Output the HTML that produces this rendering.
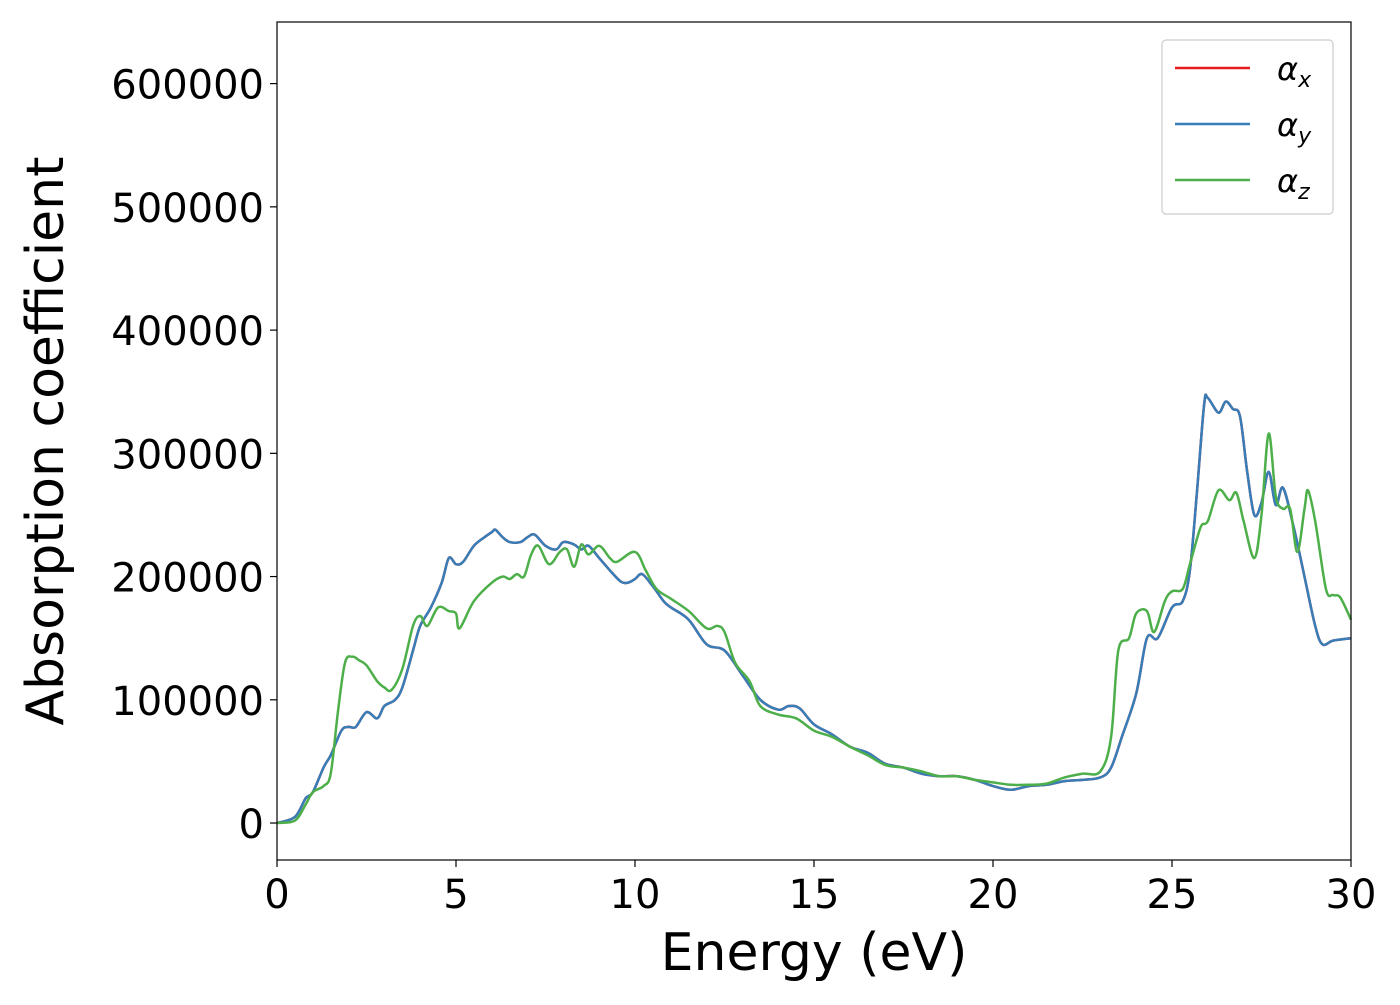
<!DOCTYPE html>
<html><head><meta charset="utf-8"><style>
body{margin:0;background:#fff}
text{font-family:"DejaVu Sans","Liberation Sans",sans-serif;fill:#000}
</style></head><body>
<svg id="chart" width="1400" height="1000">
<rect x="0" y="0" width="1400" height="1000" fill="#fff"/>
<g id="plot"></g>
<rect x="277" y="22" width="1074" height="838" fill="none" stroke="#000" stroke-width="1.2"/>
<g id="axes"></g>
<text x="814" y="970" font-size="52" text-anchor="middle">Energy (eV)</text>
<text transform="translate(63,441) rotate(-90)" font-size="52" text-anchor="middle">Absorption coefficient</text>
<g>
<rect x="1162" y="40" width="171" height="174" rx="4" fill="#fff" stroke="#ccc" stroke-width="1.2"/>
<g><line x1="1175" y1="68" x2="1250" y2="68" stroke="#e41a1c" stroke-width="2.5"/><text x="1277" y="80" font-size="32" font-style="italic">α<tspan font-size="22" dy="7">x</tspan></text></g>
<g><line x1="1175" y1="124" x2="1250" y2="124" stroke="#377eb8" stroke-width="2.5"/><text x="1277" y="136" font-size="32" font-style="italic">α<tspan font-size="22" dy="7">y</tspan></text></g>
<g><line x1="1175" y1="180" x2="1250" y2="180" stroke="#4daf4a" stroke-width="2.5"/><text x="1277" y="192" font-size="32" font-style="italic">α<tspan font-size="22" dy="7">z</tspan></text></g>
</g>
</svg>
<script>
const xyE=[0,0.5,0.8,1,1.3,1.5,1.8,2,2.2,2.5,2.8,3,3.3,3.5,3.8,4,4.3,4.6,4.8,5,5.2,5.5,5.8,6,6.1,6.3,6.5,6.8,7,7.2,7.5,7.8,8,8.3,8.5,8.7,9,9.3,9.6,9.8,10,10.2,10.5,10.8,11,11.5,12,12.5,13,13.5,14,14.3,14.6,15,15.5,16,16.5,17,17.5,18,18.5,19,19.5,20,20.5,21,21.5,22,22.5,23,23.3,23.6,24,24.3,24.6,25,25.3,25.5,25.7,25.9,26,26.3,26.5,26.7,26.9,27.1,27.3,27.5,27.7,27.9,28.1,28.4,28.7,29,29.2,29.5,30];
const alphaXY=[0,5,20,25,45,55,75,78,78,90,85,95,100,110,140,160,175,195,215,210,212,225,232,236,238,232,228,228,232,234,225,222,228,226,222,225,215,205,196,195,198,202,192,180,175,165,145,140,120,100,92,95,93,80,72,62,57,48,45,40,38,38,35,30,27,30,31,34,35,37,45,70,105,150,150,175,180,205,270,340,345,333,342,336,330,285,250,260,285,258,272,240,200,160,145,148,150];
const zE=[0,0.5,0.8,1,1.3,1.5,1.7,1.9,2.1,2.3,2.5,2.8,3,3.2,3.5,3.8,4,4.2,4.5,4.8,5,5.1,5.5,6,6.3,6.5,6.7,6.9,7.1,7.3,7.6,7.9,8.1,8.3,8.5,8.7,9,9.3,9.5,10,10.3,10.6,11,11.5,12,12.3,12.5,12.8,13.2,13.5,14,14.5,15,15.5,16,16.5,17,17.5,18,18.5,19,19.5,20,20.5,21,21.5,22,22.5,23,23.3,23.5,23.8,24,24.3,24.5,24.8,25,25.3,25.5,25.8,26,26.3,26.6,26.8,27,27.3,27.5,27.7,27.9,28.1,28.3,28.5,28.7,28.8,29,29.3,29.5,29.7,30];
const alphaZ=[0,2,15,25,30,40,90,130,135,132,128,115,110,108,125,160,168,160,175,172,170,158,180,195,200,198,202,200,218,225,210,220,222,208,226,218,225,215,212,220,205,190,182,172,158,160,155,130,115,95,88,85,75,70,62,55,47,45,42,38,38,35,33,31,31,32,37,40,42,70,140,150,170,172,155,180,188,190,210,240,245,270,262,268,245,215,250,316,265,255,255,220,255,270,245,190,185,183,165];
const xTicks=[0,5,10,15,20,25,30];
const yTicks=[0,100000,200000,300000,400000,500000,600000];
const X0=277,X1=1351,Y0=860,Y1=22,XMIN=0,XMAX=30,YMIN=-30000,YMAX=650000;
const sx=v=>X0+(v-XMIN)/(XMAX-XMIN)*(X1-X0);
const sy=v=>Y0-(v-YMIN)/(YMAX-YMIN)*(Y0-Y1);
const NS="http://www.w3.org/2000/svg";
function path(E,V,color,name){
  const p=E.map((e,i)=>[sx(e),sy(V[i]*1000)]);
  let d="M"+p[0][0].toFixed(1)+","+p[0][1].toFixed(1);
  for(let i=0;i<p.length-1;i++){
    const a=p[Math.max(i-1,0)],b=p[i],c=p[i+1],e=p[Math.min(i+2,p.length-1)];
    const c1=[b[0]+(c[0]-a[0])/6,b[1]+(c[1]-a[1])/6],c2=[c[0]-(e[0]-b[0])/6,c[1]-(e[1]-b[1])/6];
    d+="C"+c1[0].toFixed(1)+","+c1[1].toFixed(1)+" "+c2[0].toFixed(1)+","+c2[1].toFixed(1)+" "+c[0].toFixed(1)+","+c[1].toFixed(1);
  }
  const el=document.createElementNS(NS,"path");
  el.setAttribute("d",d);el.setAttribute("fill","none");el.setAttribute("stroke",color);el.setAttribute("stroke-width","2.5");
  
  
  document.getElementById("plot").appendChild(el);
}
path(xyE,alphaXY,"#e41a1c","series-alpha-x");
path(xyE,alphaXY,"#377eb8","series-alpha-y");
path(zE,alphaZ,"#4daf4a","series-alpha-z");
const ax=document.getElementById("axes");
xTicks.forEach(t=>{
  const l=document.createElementNS(NS,"line");
  l.setAttribute("x1",sx(t));l.setAttribute("x2",sx(t));l.setAttribute("y1",860);l.setAttribute("y2",867);l.setAttribute("stroke","#000");l.setAttribute("stroke-width","1.2");
  
  
  ax.appendChild(l);
  const tx=document.createElementNS(NS,"text");
  tx.setAttribute("x",sx(t));tx.setAttribute("y",908);tx.setAttribute("font-size","40");tx.setAttribute("text-anchor","middle");
  tx.textContent=t;
  
  
  ax.appendChild(tx);
});
yTicks.forEach(t=>{
  const l=document.createElementNS(NS,"line");
  l.setAttribute("x1",270);l.setAttribute("x2",277);l.setAttribute("y1",sy(t));l.setAttribute("y2",sy(t));l.setAttribute("stroke","#000");l.setAttribute("stroke-width","1.2");
  
  
  ax.appendChild(l);
  const tx=document.createElementNS(NS,"text");
  tx.setAttribute("x",264);tx.setAttribute("y",sy(t)+15);tx.setAttribute("font-size","40");tx.setAttribute("text-anchor","end");
  tx.textContent=t;
  
  
  ax.appendChild(tx);
});
</script>
</body></html>
